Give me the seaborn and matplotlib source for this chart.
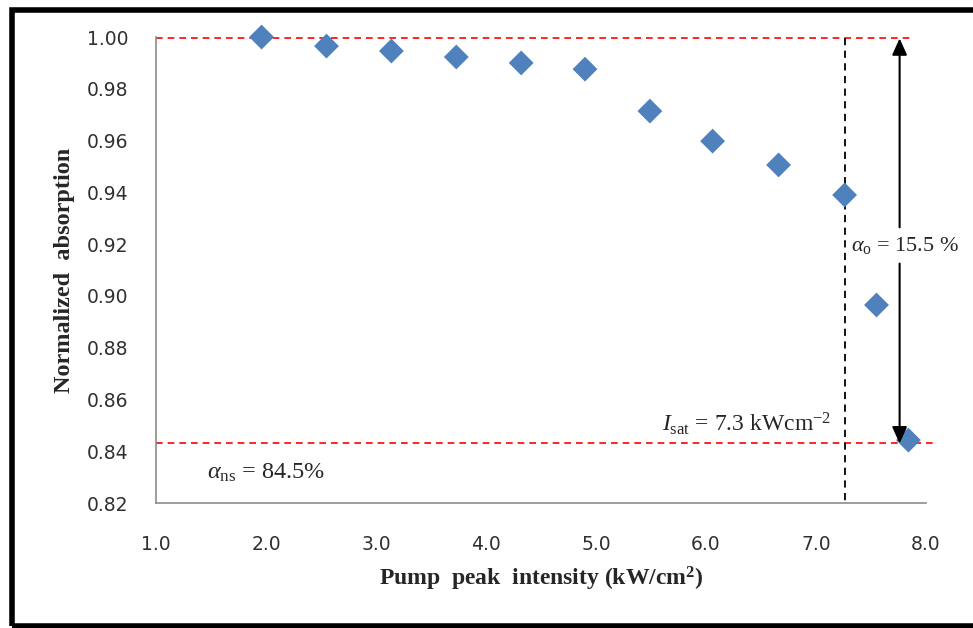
import matplotlib
matplotlib.use("Agg")
import matplotlib.pyplot as plt
import seaborn as sns
import pandas as pd
from matplotlib.patches import Rectangle

intensity = [1.96, 2.55, 3.14, 3.73, 4.32, 4.90, 5.49, 6.06, 6.66, 7.26, 7.55, 7.84]
absorption = [1.000, 0.9965, 0.9946, 0.9923, 0.9900, 0.9876, 0.9714, 0.9598, 0.9506, 0.9390, 0.8965, 0.8443]
x_ticks = [1.0, 2.0, 3.0, 4.0, 5.0, 6.0, 7.0, 8.0]
y_ticks = [0.82, 0.84, 0.86, 0.88, 0.90, 0.92, 0.94, 0.96, 0.98, 1.00]
upper_level = 0.9995
lower_level = 0.843
i_sat = 7.26
arrow_x = 7.76

df = pd.DataFrame({"x": intensity, "y": absorption})

sns.set_style("white")
serif = "Liberation Serif"
plt.rcParams["mathtext.fontset"] = "custom"
plt.rcParams["mathtext.rm"] = serif
plt.rcParams["mathtext.it"] = serif + ":italic"
plt.rcParams["mathtext.bf"] = serif + ":bold"

fig = plt.figure(figsize=(9.73, 6.28), dpi=100)
ax = fig.add_axes([0.1603, 0.199, 0.7914, 0.742])

sns.scatterplot(data=df, x="x", y="y", marker="D", s=160, color="#4F81BD",
                edgecolor="none", ax=ax, zorder=3, clip_on=False)

ax.set_xlim(1.0, 8.0)
ax.set_ylim(0.82, 1.00)
ax.set_xticks(x_ticks)
ax.set_xticklabels([f"{v:.1f}" for v in x_ticks])
ax.set_yticks(y_ticks)
ax.set_yticklabels([f"{v:.2f}" for v in y_ticks])

for s in ["top", "right"]:
    ax.spines[s].set_visible(False)
for s in ["left", "bottom"]:
    ax.spines[s].set_color("#8c8c8c")
    ax.spines[s].set_linewidth(1.2)
ax.tick_params(axis="both", which="major", direction="out", length=7, width=1.2,
               color="#8c8c8c", labelsize=13.5, labelcolor="#303030")
ax.tick_params(axis="y", pad=13)
ax.tick_params(axis="x", pad=16)

# reference lines
ax.plot([1.0, 7.87], [upper_level, upper_level], ls=(0, (4, 3)), color="#ff0000", lw=1.2, zorder=2)
ax.plot([1.0, 8.08], [lower_level, lower_level], ls=(0, (4, 3)), color="#ff0000", lw=1.2, zorder=2, clip_on=False)
ax.plot([i_sat, i_sat], [upper_level, 0.82], ls=(0, (4, 3)), color="black", lw=1.3, zorder=2)

# arrows
head = "-|>,head_length=1.0,head_width=0.45"
ax.annotate("", xy=(arrow_x, upper_level), xytext=(arrow_x, 0.9265),
            arrowprops=dict(arrowstyle=head, color="black", lw=1.5, shrinkA=0, shrinkB=0))
ax.annotate("", xy=(arrow_x, lower_level), xytext=(arrow_x, 0.9125),
            arrowprops=dict(arrowstyle=head, color="black", lw=1.5, shrinkA=0, shrinkB=0))

ax.text(arrow_x + 0.05, 0.9195, r"$\alpha_{\mathrm{o}}$ = 15.5 %", ha="center", va="center",
        fontsize=16, family=serif, zorder=4)
ax.text(1.46, 0.8315, r"$\alpha_{\mathrm{ns}}$ = 84.5%", ha="left", va="center",
        fontsize=17.5, family=serif)
ax.text(7.14, 0.8505, r"$I_{\mathrm{sat}}$ = 7.3 kWcm$^{\mathrm{-2}}$", ha="right", va="center",
        fontsize=17, family=serif)

ax.set_xlabel(r"Pump  peak  intensity (kW/cm$^{\mathbf{2}}$)", fontsize=17, fontweight="bold",
              family=serif, labelpad=8)
ax.set_ylabel("Normalized  absorption", fontsize=17.5, fontweight="bold", family=serif, labelpad=8)

# figure frame
fig.patches.append(Rectangle((12 / 973, 2 / 628), 1.2, 616 / 628, transform=fig.transFigure,
                             fill=False, edgecolor="black", lw=4))

fig.savefig("out.png", dpi=100)
